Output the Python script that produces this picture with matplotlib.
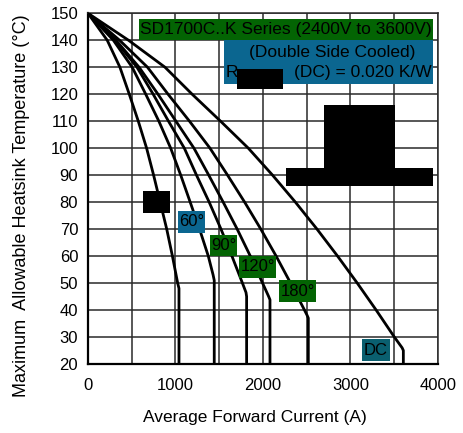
import matplotlib
matplotlib.use("Agg")
import matplotlib.pyplot as plt
from matplotlib.patches import Rectangle

plt.rcParams['font.family'] = ['Liberation Sans', 'DejaVu Sans']

# curves: current (A) vs heatsink temperature (degC)
i30 = [0, 220, 365, 472, 575, 670, 750, 825, 900, 965, 1025, 1040, 1040]
t30 = [150, 140, 130, 120, 110, 100, 90, 80, 70, 60, 50, 48, 20]

i60 = [0, 290, 505, 660, 810, 945, 1060, 1168, 1275, 1375, 1430, 1443, 1443]
t60 = [150, 140, 130, 120, 110, 100, 90, 80, 70, 60, 53, 51, 20]

i90 = [0, 310, 560, 745, 920, 1101, 1240, 1385, 1520, 1645, 1765, 1806, 1813, 1813]
t90 = [150, 140, 130, 120, 110, 100, 90, 80, 70, 60, 50, 46.5, 45, 20]

i120 = [0, 320, 584, 800, 1005, 1211, 1380, 1545, 1705, 1855, 1995, 2065, 2080, 2080]
t120 = [150, 140, 130, 120, 110, 100, 90, 80, 70, 60, 50, 45, 43.8, 20]

i180 = [0, 361, 680, 915, 1160, 1394, 1595, 1790, 1975, 2150, 2315, 2474, 2505, 2518, 2518]
t180 = [150, 140, 130, 120, 110, 100, 90, 80, 70, 60, 50, 40, 38, 37, 20]

iDC = [0, 463, 880, 1190, 1515, 1832, 2109, 2370, 2617, 2852, 3077, 3293, 3501, 3590, 3604, 3604]
tDC = [150, 140, 130, 120, 110, 100, 90, 80, 70, 60, 50, 40, 30, 26, 25, 20]

curves = [(i30, t30), (i60, t60), (i90, t90), (i120, t120), (i180, t180), (iDC, tDC)]

xTicks = [0, 500, 1000, 1500, 2000, 2500, 3000, 3500, 4000]
xTickLabels = ['0', '', '1000', '', '2000', '', '3000', '', '4000']
yTicks = [20, 30, 40, 50, 60, 70, 80, 90, 100, 110, 120, 130, 140, 150]

title = "SD1700C..K Series (2400V to 3600V)"
subTitle = "(Double Side Cooled)"
rthText = "(DC) = 0.020 K/W"

green = '#036403'
blue = '#0b6690'
teal = '#0a5f6f'
gridCol = '#2a2a2a'

fig = plt.figure(figsize=(4.63, 4.33), dpi=100)
ax = fig.add_axes([0.190, 0.1594, 0.756, 0.810])

for cur, temp in curves:
    ax.plot(cur, temp, color='black', lw=2.0, zorder=3)

ax.set_xlim(0, 4000)
ax.set_ylim(20, 150)
ax.set_xticks(xTicks)
ax.set_xticklabels(xTickLabels)
ax.set_yticks(yTicks)
ax.grid(True, color=gridCol, lw=1.1)
ax.tick_params(length=0, labelsize=12)
ax.tick_params(axis='x', pad=10)
ax.tick_params(axis='y', pad=7)
for s in ax.spines.values():
    s.set_color(gridCol)
    s.set_linewidth(1.1)
ax.spines['left'].set_color('black')
ax.spines['left'].set_linewidth(1.6)
ax.spines['bottom'].set_color('black')
ax.spines['bottom'].set_linewidth(1.6)

ax.set_xlabel("Average Forward Current (A)", fontsize=12.5)
ax.xaxis.set_label_coords(0.476, -0.154)
ax.xaxis.label.set_verticalalignment('center')
ax.set_ylabel("Maximum  Allowable Heatsink Temperature (°C)", fontsize=13)
ax.yaxis.set_label_coords(-0.189, 0.45)
ax.yaxis.label.set_verticalalignment('center')


def box(x0, x1, y0, y1, color):
    ax.add_patch(Rectangle((x0, y0), x1 - x0, y1 - y0, facecolor=color,
                           edgecolor='none', zorder=5, clip_on=False))


# title boxes
box(583, 3946, 140.1, 147.8, green)
ax.text(2265, 143.9, title, fontsize=12.5, ha='center', va='center', zorder=6)
box(1554, 3946, 123.8, 140.1, blue)
ax.text(2795, 135.5, subTitle, fontsize=12.5, ha='center', va='center', zorder=6)
ax.text(1570, 128.1, "R", fontsize=12.5, ha='left', va='center', zorder=6)
ax.text(3930, 128.1, rthText, fontsize=12.5, ha='right', va='center', zorder=6)

# blacked out parts of the original sheet
box(1703, 2225, 121.9, 129.3, 'black')
box(2701, 3512, 92.6, 115.9, 'black')
box(2266, 3939, 85.8, 92.6, 'black')
box(632, 937, 75.9, 84.2, 'black')

# curve labels
labels = [("60°", 1025, 1337, 68.5, 76.8, blue),
          ("90°", 1394, 1699, 59.9, 67.9, green),
          ("120°", 1726, 2149, 51.9, 60.1, green),
          ("180°", 2183, 2606, 42.8, 51.2, green),
          ("DC", 3131, 3451, 21.0, 29.3, teal)]
for txt, x0, x1, y0, y1, col in labels:
    box(x0, x1, y0, y1, col)
    ax.text(x0 + 20, (y0 + y1) / 2, txt, fontsize=12, ha='left', va='center', zorder=6)

fig.savefig("out.png", dpi=100)
